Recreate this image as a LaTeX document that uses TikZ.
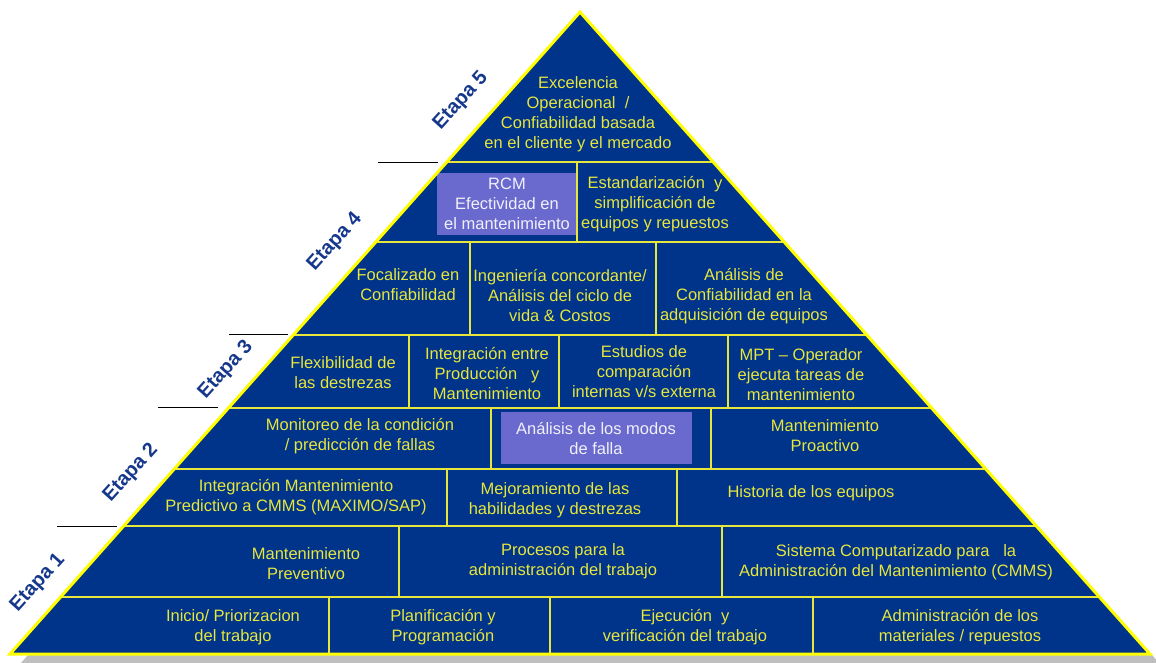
\documentclass[tikz,border=0pt]{standalone}
\usepackage{fontspec}
\setmainfont{Liberation Sans}
\usepackage{xcolor}
\usepackage{tikz}
\definecolor{pyrblue}{RGB}{0,51,138}
\definecolor{pyryellow}{RGB}{255,255,0}
\definecolor{txtyellow}{RGB}{230,230,60}
\definecolor{boxviolet}{RGB}{106,106,206}
\definecolor{etapablue}{RGB}{22,56,140}

\begin{document}
\begin{tikzpicture}[x=1pt, y=-1pt,
                        txt/.style={text=txtyellow, align=center, inner sep=0pt, font=\fontsize{16.5}{20}\selectfont},
                        boxtxt/.style={txt, text=white!90!boxviolet},
                        etapa/.style={text=etapablue, inner sep=0pt, rotate=48, font=\fontsize{20}{24}\selectfont\bfseries},
                        sep/.style={draw=txtyellow, line width=1.4pt},
                        stagemark/.style={draw=black, line width=0.8pt}]
                        \useasboundingbox (0,0) rectangle (1156,662);
                        \fill[black!25] (20,664) -- (590,22) -- (1160,664) -- cycle;
                        \fill[pyrblue] (10,654) -- (580,12) -- (1150,654) -- cycle;
                        \begin{scope}
                        \clip (10,654) -- (580,12) -- (1150,654) -- cycle;
                        \foreach \y in {162,242,335,408,469,526,597}
                        \draw[sep] (0,\y) -- (1156,\y);
                        \foreach \x/\ya/\yb in {577/162/242, 470/242/335, 656/242/335, 409/335/408, 559/335/408, 728/335/408, 491/408/469, 711/408/469, 447/469/526, 677/469/526, 399/526/597, 722/526/597, 329/597/654, 550/597/654, 813/597/654}
                        \draw[sep] (\x,\ya) -- (\x,\yb);
                        \end{scope}
                        \fill[boxviolet] (437,173) rectangle (576,235);
                        \fill[boxviolet] (501,412) rectangle (692,464);
                        \draw[draw=pyryellow, line width=3pt] (10,654) -- (580,12) -- (1150,654) -- cycle;
                        \foreach \x/\xb/\y in {378/438/162, 229/288/334, 158/218/407, 57/117/526}
                        \draw[stagemark] (\x,\y) -- (\xb,\y);

                        \node[etapa] (etapa5) at (461,101) {Etapa 5};
                        \node[etapa] (etapa4) at (335,242) {Etapa 4};
                        \node[etapa] (etapa3) at (226,370) {Etapa 3};
                        \node[etapa] (etapa2) at (131,473) {Etapa 2};
                        \node[etapa] (etapa1) at (38,583) {Etapa 1};

                        \node[txt] (excelencia) at (578,114) {Excelencia\\Operacional\ \ /\\Confiabilidad basada\\en el cliente y el mercado};
                        \node[boxtxt] (rcm) at (507,204) {RCM\\Efectividad en\\el mantenimiento};
                        \node[txt] (estandar) at (655,204) {Estandarización\ \ y\\simplificación de\\equipos y repuestos};
                        \node[txt] (focalizado) at (408,285) {Focalizado en\\Confiabilidad};
                        \node[txt] (ingenieria) at (560,295) {Ingeniería concordante/\\Análisis del ciclo de\\vida \& Costos};
                        \node[txt] (adquisicion) at (744,296) {Análisis de\\Confiabilidad en la\\adquisición de equipos};
                        \node[txt] (flexibilidad) at (343,373) {Flexibilidad de\\las destrezas};
                        \node[txt] (integracion) at (487,373) {Integración entre\\Producción\ \ \ y\\Mantenimiento};
                        \node[txt] (estudios) at (644,372) {Estudios de\\comparación\\internas v/s externa};
                        \node[txt] (mpt) at (801,375) {MPT -- Operador\\ejecuta tareas de\\mantenimiento};
                        \node[txt] (monitoreo) at (360,436) {Monitoreo de la condición\\/ predicción de fallas};
                        \node[boxtxt] (modos) at (596,438) {Análisis de los modos\\de falla};
                        \node[txt] (proactivo) at (825,436) {Mantenimiento\\Proactivo};
                        \node[txt] (predictivo) at (296,497) {Integración Mantenimiento\\Predictivo a CMMS (MAXIMO/SAP)};
                        \node[txt] (mejoramiento) at (555,500) {Mejoramiento de las\\habilidades y destrezas};
                        \node[txt] (historia) at (811,493) {Historia de los equipos};
                        \node[txt] (preventivo) at (306,564) {Mantenimiento\\Preventivo};
                        \node[txt] (procesos) at (563,561) {Procesos para la\\administración del trabajo};
                        \node[txt] (cmms) at (896,562) {Sistema Computarizado para\ \ \ la\\Administración del Mantenimiento (CMMS)};
                        \node[txt] (inicio) at (233,627) {Inicio/ Priorizacion\\del trabajo};
                        \node[txt] (planificacion) at (443,627) {Planificación y\\Programación};
                        \node[txt] (ejecucion) at (685,627) {Ejecución\ \ y\\verificación del trabajo};
                        \node[txt] (materiales) at (960,627) {Administración de los\\materiales / repuestos};
                    \end{tikzpicture}
\end{document}
